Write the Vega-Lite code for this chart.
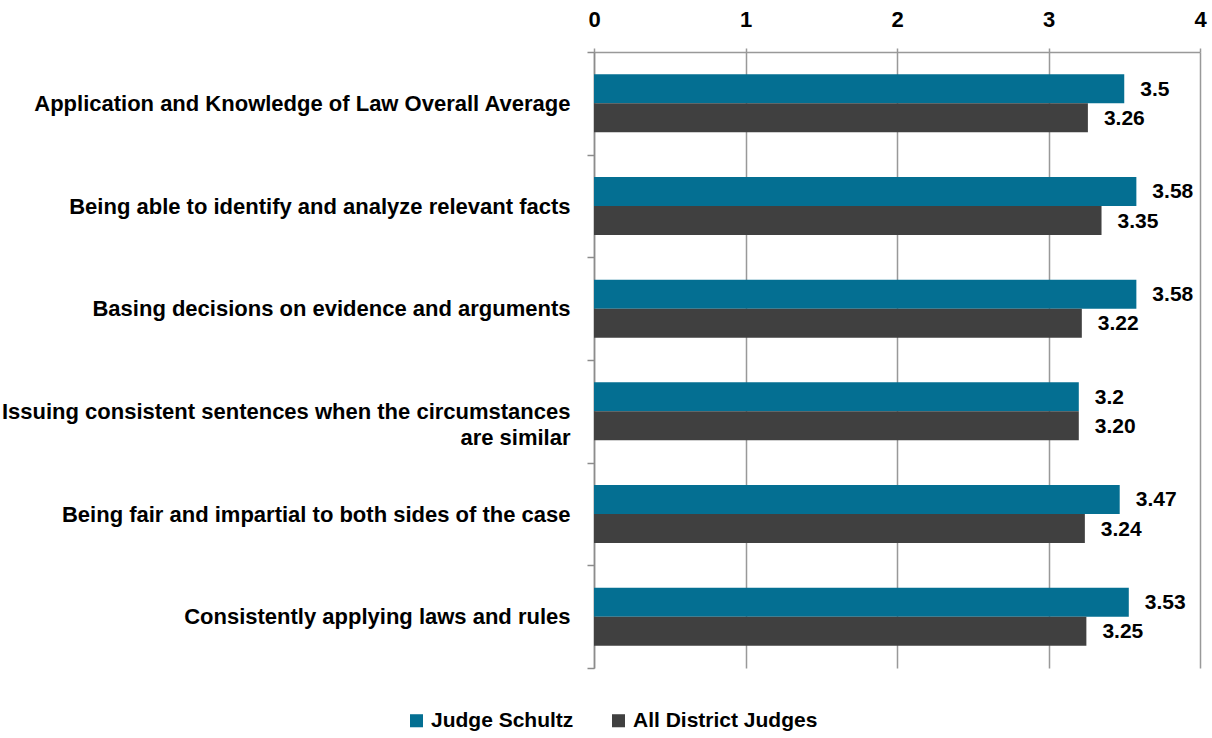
{
  "$schema": "https://vega.github.io/schema/vega-lite/v6.json",
  "width": 606,
  "height": 616,
  "autosize": {"type": "none"},
  "padding": {"left": 594, "top": 52, "right": 12, "bottom": 70},
  "background": "white",
  "config": {"font": "Liberation Sans", "view": {"stroke": null}},
  "data": {"values": [
    {"category": "Application and Knowledge of Law Overall Average", "series": "Judge Schultz", "value": 3.5, "label": "3.5"},
    {"category": "Application and Knowledge of Law Overall Average", "series": "All District Judges", "value": 3.26, "label": "3.26"},
    {"category": "Being able to identify and analyze relevant facts", "series": "Judge Schultz", "value": 3.58, "label": "3.58"},
    {"category": "Being able to identify and analyze relevant facts", "series": "All District Judges", "value": 3.35, "label": "3.35"},
    {"category": "Basing decisions on evidence and arguments", "series": "Judge Schultz", "value": 3.58, "label": "3.58"},
    {"category": "Basing decisions on evidence and arguments", "series": "All District Judges", "value": 3.22, "label": "3.22"},
    {"category": "Issuing consistent sentences when the circumstances|are similar", "series": "Judge Schultz", "value": 3.2, "label": "3.2"},
    {"category": "Issuing consistent sentences when the circumstances|are similar", "series": "All District Judges", "value": 3.2, "label": "3.20"},
    {"category": "Being fair and impartial to both sides of the case", "series": "Judge Schultz", "value": 3.47, "label": "3.47"},
    {"category": "Being fair and impartial to both sides of the case", "series": "All District Judges", "value": 3.24, "label": "3.24"},
    {"category": "Consistently applying laws and rules", "series": "Judge Schultz", "value": 3.53, "label": "3.53"},
    {"category": "Consistently applying laws and rules", "series": "All District Judges", "value": 3.25, "label": "3.25"}
  ]},
  "layer": [
    {
      "mark": {"type": "bar"},
      "encoding": {
        "y": {
          "field": "category", "type": "nominal", "sort": null,
          "scale": {"paddingInner": 0, "paddingOuter": 0},
          "axis": {
            "title": null,
            "labelExpr": "indexof(datum.label, '|') >= 0 ? [split(datum.label, '|')[0], split(datum.label, '|')[1] + '\u00a0\u00a0\u00a0\u00a0\u00a0\u00a0\u00a0\u00a0\u00a0\u00a0\u00a0\u00a0\u00a0\u00a0\u00a0\u00a0\u00a0\u00a0\u00a0\u00a0\u00a0\u00a0\u00a0\u00a0\u00a0\u00a0\u00a0\u00a0\u00a0\u00a0\u00a0\u00a0\u00a0\u00a0\u00a0\u00a0\u00a0'] : datum.label",
            "labelLineHeight": 26,
            "labelFontSize": 22,
            "labelFontWeight": "bold",
            "labelColor": "black",
            "labelLimit": 0,
            "labelPadding": 17,
            "tickBand": "extent",
            "tickSize": 7,
            "tickColor": "#8c8c8c",
            "tickWidth": 1.5,
            "domainColor": "#8c8c8c",
            "domainWidth": 1.5,
            "grid": false
          }
        },
        "yOffset": {"field": "series", "type": "nominal", "sort": ["Judge Schultz", "All District Judges"], "scale": {"paddingOuter": 0.77}},
        "x": {
          "field": "value", "type": "quantitative",
          "scale": {"domain": [0, 4], "nice": false},
          "axis": {
            "orient": "top",
            "title": null,
            "values": [0, 1, 2, 3, 4],
            "format": "d",
            "grid": true,
            "gridColor": "#999999",
            "gridWidth": 1.5,
            "domainColor": "#999999",
            "domainWidth": 1.5,
            "tickColor": "#999999",
            "tickWidth": 1.5,
            "tickSize": 4,
            "labelFontSize": 22,
            "labelFontWeight": "bold",
            "labelColor": "black",
            "labelPadding": 17,
            "labelFlush": false
          }
        },
        "color": {
          "field": "series", "type": "nominal",
          "scale": {"domain": ["Judge Schultz", "All District Judges"], "range": ["#046F92", "#404040"]},
          "legend": {
            "title": null,
            "orient": "none",
            "direction": "horizontal",
            "legendX": -188,
            "legendY": 658,
            "symbolType": "square",
            "symbolSize": 170,
            "labelFontSize": 21,
            "labelFontWeight": "bold",
            "labelColor": "black",
            "labelOffset": 4,
            "columnPadding": 34,
            "labelLimit": 0
          }
        }
      }
    },
    {
      "mark": {"type": "text", "align": "left", "baseline": "middle", "dx": 16, "dy": 1, "fontSize": 21, "fontWeight": "bold", "color": "black"},
      "encoding": {
        "y": {"field": "category", "type": "nominal", "sort": null},
        "yOffset": {"field": "series", "type": "nominal", "sort": ["Judge Schultz", "All District Judges"]},
        "x": {"field": "value", "type": "quantitative"},
        "text": {"field": "label", "type": "nominal"}
      }
    }
  ]
}
